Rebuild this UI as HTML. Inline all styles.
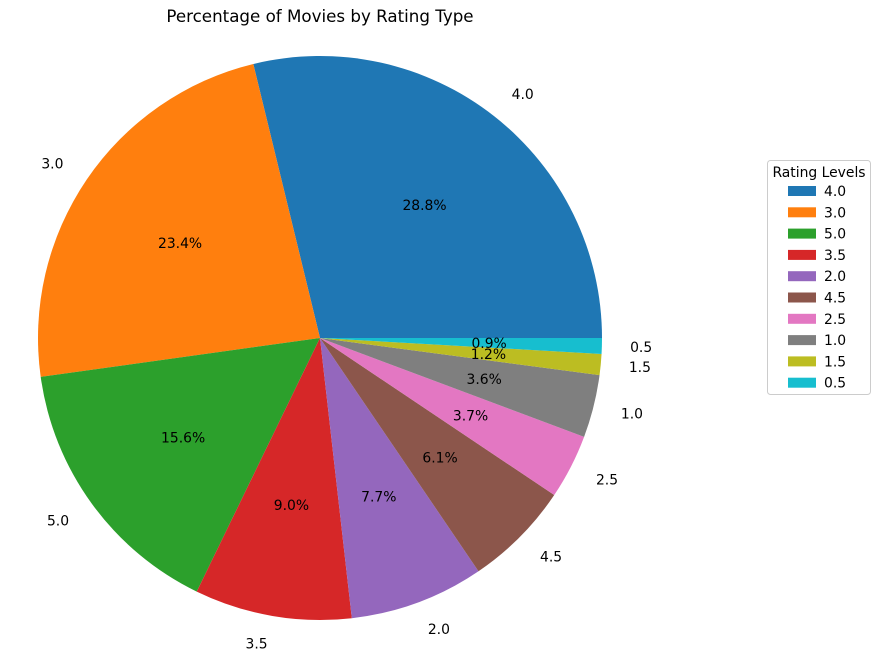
<!DOCTYPE html>
<html><head><meta charset="utf-8"><style>
body{margin:0;background:#fff;font-family:"DejaVu Sans","Liberation Sans",sans-serif;}
</style></head><body>
<svg width="881" height="660" xmlns="http://www.w3.org/2000/svg" font-family="DejaVu Sans, Liberation Sans, sans-serif">
<text x="320" y="22" text-anchor="middle" font-size="16.7">Percentage of Movies by Rating Type</text>
<g id="pie"></g>
<g id="legend"></g>
</svg>
<script>
const categories=["4.0","3.0","5.0","3.5","2.0","4.5","2.5","1.0","1.5","0.5"];
const values=[28.8,23.4,15.6,9.0,7.7,6.1,3.7,3.6,1.2,0.9];
const colors=["#1f77b4","#ff7f0e","#2ca02c","#d62728","#9467bd","#8c564b","#e377c2","#7f7f7f","#bcbd22","#17becf"];
const NS="http://www.w3.org/2000/svg";
const cx=320,cy=338,r=282;
const total=values.reduce((a,b)=>a+b,0);
const pie=document.getElementById('pie');
let a=0;
function pt(ang,rad){return [cx+rad*Math.cos(ang),cy-rad*Math.sin(ang)];}
values.forEach((v,i)=>{
  const da=v/total*2*Math.PI, a1=a+da;
  const [x0,y0]=pt(a,r),[x1,y1]=pt(a1,r);
  const p=document.createElementNS(NS,'path');
  p.setAttribute('d',`M${cx},${cy}L${x0},${y0}A${r},${r} 0 ${da>Math.PI?1:0} 0 ${x1},${y1}Z`);
  p.setAttribute('fill',colors[i]);
  
  
  pie.appendChild(p);
  const m=(a+a1)/2;
  const [lx,ly]=pt(m,r*1.1);
  const t=document.createElementNS(NS,'text');
  t.setAttribute('x',lx);t.setAttribute('y',ly+5);
  t.setAttribute('text-anchor',Math.cos(m)>=0?'start':'end');
  t.setAttribute('font-size','13.9');
  t.textContent=categories[i];
  
  
  pie.appendChild(t);
  const [px,py]=pt(m,r*0.6);
  const t2=document.createElementNS(NS,'text');
  t2.setAttribute('x',px);t2.setAttribute('y',py+5);
  t2.setAttribute('text-anchor','middle');
  t2.setAttribute('font-size','13.9');
  t2.textContent=v.toFixed(1)+'%';
  
  
  pie.appendChild(t2);
  a=a1;
});
const lg=document.getElementById('legend');
lg.innerHTML='<rect x="767.5" y="160.5" width="103" height="234" rx="3" fill="#fff" stroke="#ccc"/><text x="819" y="177" text-anchor="middle" font-size="13.9">Rating Levels</text>';


categories.forEach((c,i)=>{
  const y=186+i*21.3;
  const rc=document.createElementNS(NS,'rect');
  rc.setAttribute('x',788);rc.setAttribute('y',y);rc.setAttribute('width',28);rc.setAttribute('height',10);
  rc.setAttribute('fill',colors[i]);
  
  
  lg.appendChild(rc);
  const t=document.createElementNS(NS,'text');
  t.setAttribute('x',824);t.setAttribute('y',y+10);t.setAttribute('font-size','13.9');
  t.textContent=c;
  
  
  lg.appendChild(t);
});
</script>
</body></html>
